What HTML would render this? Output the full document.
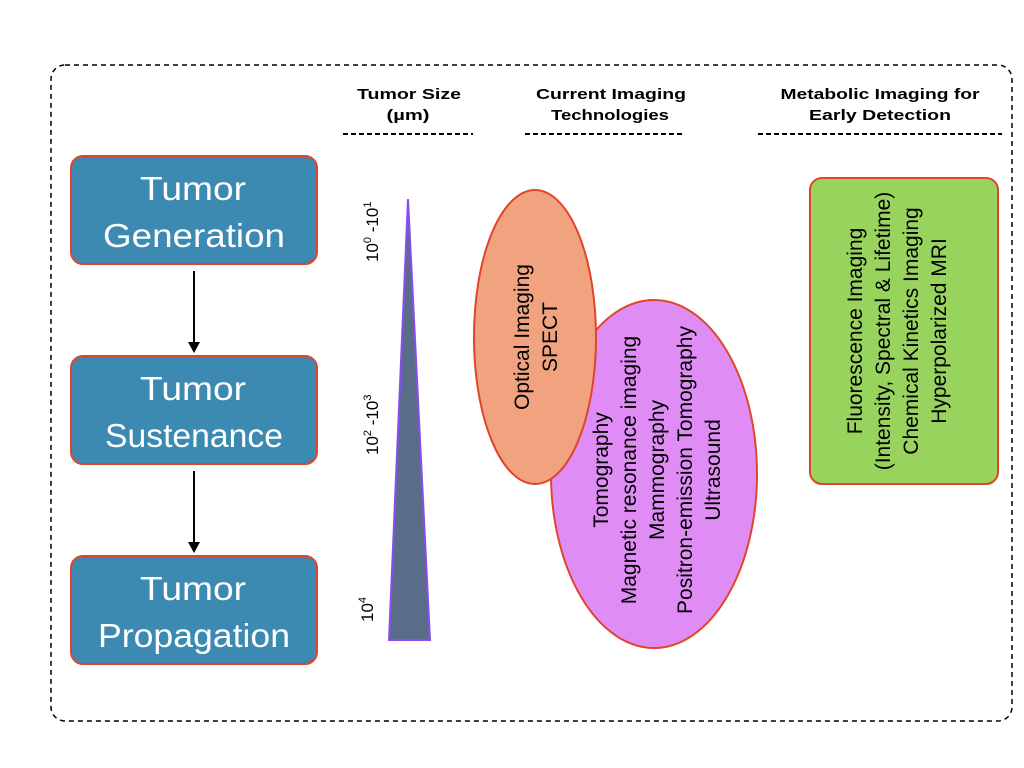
<!DOCTYPE html>
<html><head><meta charset="utf-8"><style>
html,body{margin:0;padding:0;background:#fff;width:1024px;height:768px;overflow:hidden}
svg{display:block}
text{font-family:"Liberation Sans",sans-serif}
</style></head><body>
<svg width="1024" height="768" viewBox="0 0 1024 768" xmlns="http://www.w3.org/2000/svg">
<rect x="51" y="65" width="961" height="656" rx="14" fill="none" stroke="#000" stroke-width="1.5" stroke-dasharray="5,4"/>
<g font-weight="bold" font-size="15" text-anchor="middle" fill="#000" lengthAdjust="spacingAndGlyphs">
<text x="409" y="99" textLength="104" lengthAdjust="spacingAndGlyphs">Tumor Size</text><text x="408" y="120" textLength="43" lengthAdjust="spacingAndGlyphs">(µm)</text>
<text x="611" y="99" textLength="150" lengthAdjust="spacingAndGlyphs">Current Imaging</text><text x="610" y="120" textLength="118" lengthAdjust="spacingAndGlyphs">Technologies</text>
<text x="880" y="99" textLength="199" lengthAdjust="spacingAndGlyphs">Metabolic Imaging for</text><text x="880" y="120" textLength="142" lengthAdjust="spacingAndGlyphs">Early Detection</text>
</g>
<g stroke="#000" stroke-width="2" stroke-dasharray="5,3">
<line x1="343" y1="134" x2="473" y2="134"/><line x1="525" y1="134" x2="683" y2="134"/><line x1="758" y1="134" x2="1002" y2="134"/>
</g>
<g fill="#3c89b1" stroke="#e0452b" stroke-width="2">
<rect x="71" y="156" width="246" height="108" rx="12"/>
<rect x="71" y="356" width="246" height="108" rx="12"/>
<rect x="71" y="556" width="246" height="108" rx="12"/>
</g>
<g fill="#fff" font-size="33" text-anchor="middle">
<text x="193" y="200" textLength="106" lengthAdjust="spacingAndGlyphs">Tumor</text><text x="194" y="247" textLength="182" lengthAdjust="spacingAndGlyphs">Generation</text>
<text x="193" y="400" textLength="106" lengthAdjust="spacingAndGlyphs">Tumor</text><text x="194" y="447" textLength="178" lengthAdjust="spacingAndGlyphs">Sustenance</text>
<text x="193" y="600" textLength="106" lengthAdjust="spacingAndGlyphs">Tumor</text><text x="194" y="647" textLength="192" lengthAdjust="spacingAndGlyphs">Propagation</text>
</g>
<g stroke="#000" stroke-width="2"><line x1="194" y1="271" x2="194" y2="345"/><line x1="194" y1="471" x2="194" y2="545"/></g>
<polygon points="188,342 200,342 194,353" fill="#000"/><polygon points="188,542 200,542 194,553" fill="#000"/>
<polygon points="408,199 430,640 389,640" fill="#5a6d88" stroke="#8a4cf0" stroke-width="2"/>
<g font-size="17" fill="#000">
<text transform="translate(378,262) rotate(-90)">10<tspan font-size="11" dy="-7">0</tspan><tspan dy="7"> -10</tspan><tspan font-size="11" dy="-7">1</tspan></text>
<text transform="translate(378,455) rotate(-90)">10<tspan font-size="11" dy="-7">2</tspan><tspan dy="7"> -10</tspan><tspan font-size="11" dy="-7">3</tspan></text>
<text transform="translate(373,622) rotate(-90)">10<tspan font-size="11" dy="-7">4</tspan></text>
</g>
<ellipse cx="654" cy="474" rx="103" ry="174" fill="#df8df5" stroke="#e0452b" stroke-width="2"/>
<ellipse cx="535" cy="337" rx="61" ry="147" fill="#f1a380" stroke="#e0452b" stroke-width="2"/>
<g font-size="21" fill="#000" text-anchor="middle">
<text transform="translate(529,337) rotate(-90)">Optical Imaging</text>
<text transform="translate(557,337) rotate(-90)">SPECT</text>
<text transform="translate(608,470) rotate(-90)">Tomography</text>
<text transform="translate(636,470) rotate(-90)">Magnetic resonance imaging</text>
<text transform="translate(664,470) rotate(-90)">Mammography</text>
<text transform="translate(692,470) rotate(-90)">Positron-emission Tomography</text>
<text transform="translate(720,470) rotate(-90)">Ultrasound</text>
</g>
<rect x="810" y="178" width="188" height="306" rx="12" fill="#98d35e" stroke="#e0452b" stroke-width="2"/>
<g font-size="21" fill="#000" text-anchor="middle">
<text transform="translate(862,331) rotate(-90)">Fluorescence  Imaging</text>
<text transform="translate(890,331) rotate(-90)">(Intensity, Spectral &amp; Lifetime)</text>
<text transform="translate(918,331) rotate(-90)">Chemical Kinetics Imaging</text>
<text transform="translate(946,331) rotate(-90)">Hyperpolarized MRI</text>
</g>
</svg>
</body></html>
